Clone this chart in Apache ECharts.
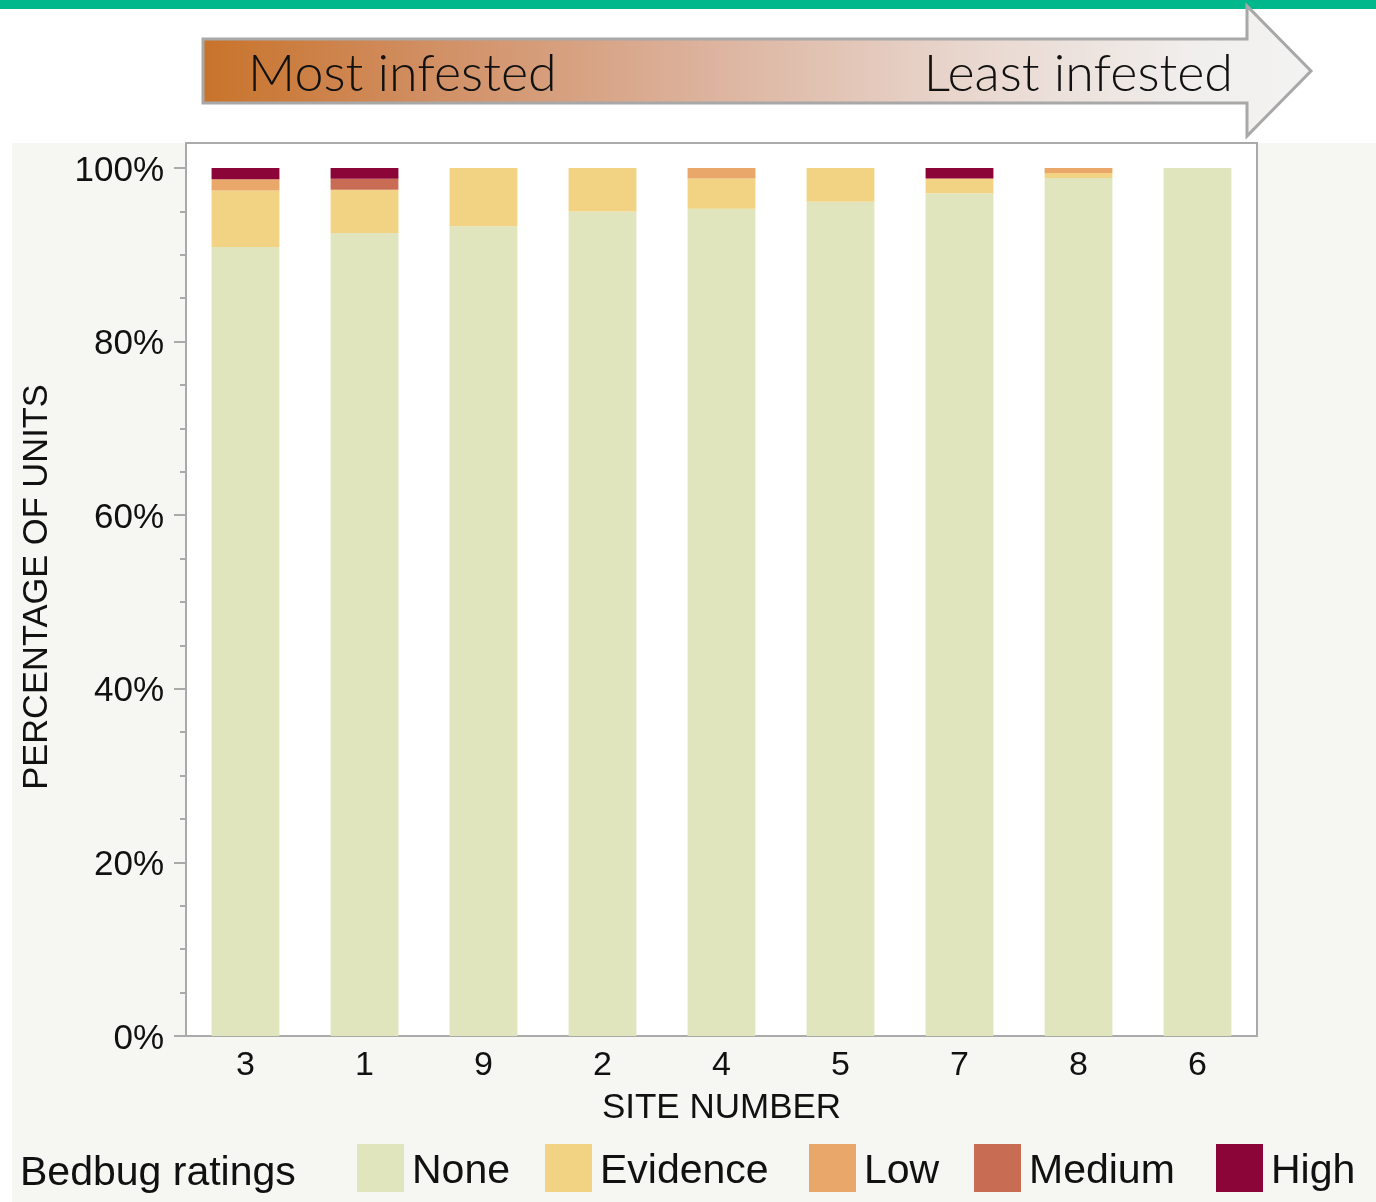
<!DOCTYPE html>
<html>
<head>
<meta charset="utf-8">
<title>Bedbug ratings by site</title>
<script src="https://cdn.jsdelivr.net/npm/echarts@6/dist/echarts.min.js"></script>
<style>
  html, body { margin: 0; padding: 0; background: #ffffff; }
  #chart { width: 1376px; height: 1202px; }
</style>
</head>
<body>
<div id="chart"></div>
<script>
// Sites ordered from most to least infested
const sites = ['3', '1', '9', '2', '4', '5', '7', '8', '6'];

// Share of units (%) in each bedbug rating, per site
const noneShare     = [90.9, 92.5, 93.3, 95.0, 95.3, 96.1, 97.1, 98.85, 100];
const evidenceShare = [6.5, 5.0, 6.7, 5.0, 3.5, 3.9, 1.7, 0.58, 0];
const lowShare      = [1.3, 0, 0, 0, 1.2, 0, 0, 0.57, 0];
const mediumShare   = [0, 1.25, 0, 0, 0, 0, 0, 0, 0];
const highShare     = [1.3, 1.25, 0, 0, 0, 0, 1.2, 0, 0];

const ratingNames = ['None', 'Evidence', 'Low', 'Medium', 'High'];
const ratingColors = ['#e0e5be', '#f2d383', '#e9a86a', '#c96c54', '#8c0538'];
const ratingData = [noneShare, evidenceShare, lowShare, mediumShare, highShare];

const yTicks = [0, 20, 40, 60, 80, 100];

// Layout
const W = 1376, H = 1202;
const plot = { left: 186, right: 1257, top: 143, valueTop: 168, bottom: 1036 };
const legendLeft = [357, 545, 809, 974, 1216];
const labelFont = '"Liberation Sans", Arial, Helvetica, sans-serif';
const bannerFont = 'Lato, "Noto Sans", sans-serif';

const chart = echarts.init(document.getElementById('chart'), null, { renderer: 'canvas' });

const series = ratingNames.map((name, i) => ({
  name: name,
  type: 'bar',
  stack: 'share',
  data: ratingData[i],
  itemStyle: { color: ratingColors[i] },
  barCategoryGap: '43%',
  emphasis: { disabled: true },
  z: 5
}));

const legends = ratingNames.map((name, i) => ({
  data: [name],
  left: legendLeft[i],
  top: 1144,
  itemWidth: 47,
  itemHeight: 48,
  icon: 'rect',
  selectedMode: false,
  padding: 0,
  formatter: '{t|{name}}',
  textStyle: {
    fontFamily: labelFont,
    fontSize: 41,
    color: '#111111',
    rich: {
      t: { fontFamily: labelFont, fontSize: 41, color: '#111111', padding: [8, 0, 0, 3] }
    }
  }
}));

chart.setOption({
  animation: false,
  backgroundColor: '#ffffff',
  graphic: [
    // top band
    { type: 'rect', z: -20, shape: { x: 0, y: 0, width: W, height: 9 }, style: { fill: '#00b88c' } },
    // panel background
    { type: 'rect', z: -20, shape: { x: 12, y: plot.top, width: W - 12, height: H - plot.top }, style: { fill: '#f6f6f2' } },
    // plot frame
    { type: 'rect', z: -10,
      shape: { x: plot.left, y: plot.top, width: plot.right - plot.left, height: plot.bottom - plot.top },
      style: { fill: '#ffffff', stroke: '#aaaaaa', lineWidth: 2 } },
    // banner arrow
    { type: 'polygon', z: 10,
      shape: { points: [[203, 39], [1247, 39], [1247, 6], [1311, 71], [1247, 136], [1247, 103], [203, 103]] },
      style: {
        fill: new echarts.graphic.LinearGradient(0, 0, 1, 0, [
          { offset: 0, color: '#c8732a' },
          { offset: 0.2, color: '#d18e62' },
          { offset: 0.45, color: '#dcb29c' },
          { offset: 0.7, color: '#e9d8d0' },
          { offset: 0.9, color: '#f1efed' },
          { offset: 1, color: '#f3f3f3' }
        ]),
        stroke: '#a8a8a8', lineWidth: 3
      } },
    { type: 'text', z: 11, x: 248, y: 74,
      style: { text: 'Most infested', font: '300 52px ' + bannerFont, fill: '#111111', textAlign: 'left', textVerticalAlign: 'middle' } },
    { type: 'text', z: 11, x: 1233, y: 74,
      style: { text: 'Least infested', font: '300 52px ' + bannerFont, fill: '#111111', textAlign: 'right', textVerticalAlign: 'middle' } },
    // y axis title
    { type: 'text', z: 11, x: 37, y: 587, rotation: Math.PI / 2,
      style: { text: 'PERCENTAGE OF UNITS', font: '34.5px ' + labelFont, fill: '#111111', textAlign: 'center', textVerticalAlign: 'middle' } },
    // legend title
    { type: 'text', z: 11, x: 20, y: 1174,
      style: { text: 'Bedbug ratings', font: '41px ' + labelFont, fill: '#111111', textAlign: 'left', textVerticalAlign: 'middle' } }
  ],
  legend: legends,
  grid: {
    left: plot.left,
    right: W - plot.right,
    top: plot.valueTop,
    bottom: H - plot.bottom,
    containLabel: false
  },
  xAxis: {
    type: 'category',
    data: sites,
    name: 'SITE NUMBER',
    nameLocation: 'middle',
    nameGap: 55,
    nameTextStyle: { fontFamily: labelFont, fontSize: 35, color: '#111111' },
    axisLine: { show: true, lineStyle: { color: '#aaaaaa', width: 2 } },
    axisTick: { show: false },
    axisLabel: { fontFamily: labelFont, fontSize: 34, color: '#111111', margin: 13 }
  },
  yAxis: {
    type: 'value',
    min: yTicks[0],
    max: yTicks[yTicks.length - 1],
    interval: 20,
    axisLine: { show: true, lineStyle: { color: '#aaaaaa', width: 2 } },
    axisTick: { show: true, length: 12, lineStyle: { color: '#aaaaaa', width: 2 } },
    minorTick: { show: true, splitNumber: 4, length: 6, lineStyle: { color: '#aaaaaa', width: 2 } },
    splitLine: { show: false },
    axisLabel: {
      fontFamily: labelFont, fontSize: 35, color: '#111111', margin: 22,
      formatter: v => '{p|' + v + '%}',
      rich: {
        p: { fontFamily: labelFont, fontSize: 35, color: '#111111', padding: [6, 0, 0, 0] }
      }
    }
  },
  series: series
});
</script>
</body>
</html>
